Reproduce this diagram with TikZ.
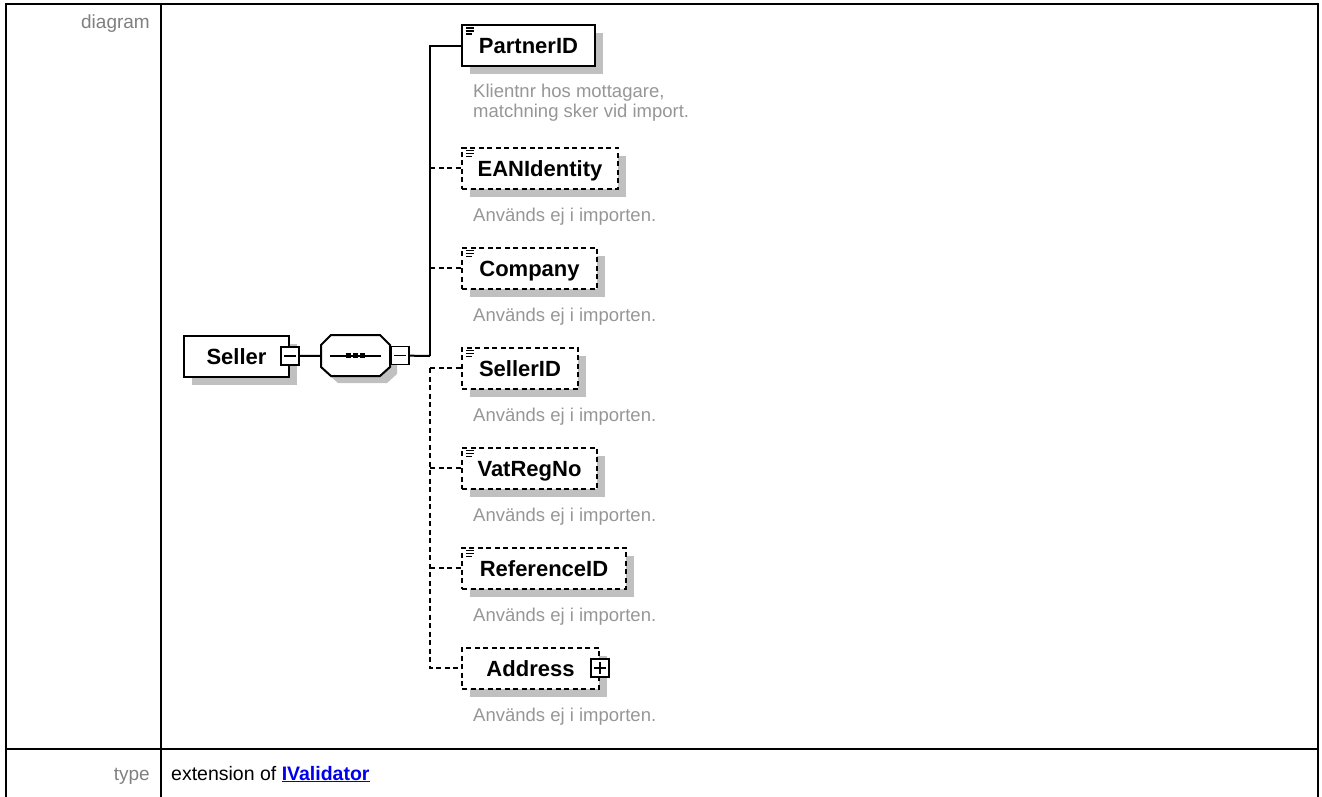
\documentclass[tikz,border=0pt]{standalone}
\usepackage{fontspec}
\setmainfont{Liberation Sans}
\usetikzlibrary{positioning, shadows}

\definecolor{labelgrey}{RGB}{128,128,128}
\definecolor{notegrey}{RGB}{150,150,150}
\definecolor{shadowgrey}{RGB}{192,192,192}
\definecolor{linkblue}{RGB}{0,0,238}

\begin{document}
\begin{tikzpicture}[x=1pt, y=-1pt]
\tikzstyle{elem} = [rectangle, draw, line width=2pt, fill=white, minimum height=41pt, inner xsep=0pt, anchor=west, text height=16pt, text depth=0pt, font=\fontsize{22}{26}\selectfont\bfseries, drop shadow={shadow xshift=8pt, shadow yshift=-8pt, fill=shadowgrey, opacity=1}]
\tikzstyle{optelem} = [elem, dash pattern=on 5pt off 3.5pt]
\tikzstyle{docicon} = [path picture={
  \draw[solid, line width=1.3pt] ([xshift=4pt,yshift=-3pt]path picture bounding box.north west) -- +(8pt,0pt);
  \draw[solid, line width=1.3pt] ([xshift=4pt,yshift=-6pt]path picture bounding box.north west) -- +(8pt,0pt);
  \draw[solid, line width=1.3pt] ([xshift=4pt,yshift=-9pt]path picture bounding box.north west) -- +(6pt,0pt);}]
\tikzstyle{note} = [anchor=base west, inner sep=0pt, text=notegrey, font=\fontsize{18.5}{20}\selectfont, align=left]
\tikzstyle{toggle} = [rectangle, draw, solid, line width=1.6pt, fill=white, minimum size=18pt, inner sep=0pt]
\tikzstyle{minus} = [toggle, path picture={
  \draw[line width=1.4pt] ([xshift=3pt]path picture bounding box.west) -- ([xshift=-3pt]path picture bounding box.east);}]
\tikzstyle{plus} = [toggle, path picture={
  \draw[line width=1.4pt] ([xshift=3pt]path picture bounding box.west) -- ([xshift=-3pt]path picture bounding box.east);
  \draw[line width=1.4pt] ([yshift=-3pt]path picture bounding box.north) -- ([yshift=3pt]path picture bounding box.south);}]
\tikzstyle{conn} = [line width=2pt]
\tikzstyle{optconn} = [conn, dash pattern=on 5pt off 3.5pt]
\tikzstyle{rowlabel} = [anchor=base east, inner sep=0pt, text=labelgrey, font=\fontsize{19}{22}\selectfont]

\useasboundingbox (0,0) rectangle (1322,796);

% table frame
\draw[line width=2.5pt] (6,4) rectangle (1318,810);
\draw[line width=2.5pt] (161,4) -- (161,810);
\draw[line width=2.5pt] (6,749) -- (1318,749);

\node (diaglabel) [rowlabel] at (150,28) {diagram};
\node (typelabel) [rowlabel] at (150,780) {type};
\node (typetext) [anchor=base west, inner sep=0pt, font=\fontsize{19.5}{22}\selectfont] at (171,780) {extension of \textcolor{linkblue}{\bfseries\underline{IValidator}}};

% root and sequence
\node (seller) [elem, anchor=center, minimum width=105pt] at (236.5,356) {Seller};
\node (sellertoggle) [minus] at (seller.east) {};

\fill[shadowgrey] (338,342) -- (387,342) -- (397,352) -- (397,374) -- (387,383) -- (338,383) -- (328,374) -- (328,352) -- cycle;
\draw[conn, fill=white] (331,335) -- (380,335) -- (390,345) -- (390,367) -- (380,376) -- (331,376) -- (321,367) -- (321,345) -- cycle;
\node (seq) [inner sep=0pt, minimum width=69pt, minimum height=41pt] at (355.5,355.5) {};
\draw[line width=1.6pt] (330,356) -- (381,356);
\foreach \dx in {-7,0,7}
  \fill ([xshift=\dx pt]seq.center) ++(-2.5,-2.5) rectangle ++(5,5);
\node (seqtoggle) [minus, right=0pt of seq] {};

\draw[conn] (sellertoggle) -- (seq);
\coordinate (trunk) at (430,356);
\coordinate (optstart) at (430,368);
\draw[conn] (seqtoggle) -- (trunk);

% children
\node (partner) [elem, docicon, minimum width=133pt] at (461,45.5) {PartnerID};
\node (ean) [optelem, docicon, minimum width=156pt] at (461,168) {EANIdentity};
\node (company) [optelem, docicon, minimum width=135pt] at (461,268) {Company};
\node (sellerid) [optelem, docicon, minimum width=116pt] at (461,368) {SellerID};
\node (vatregno) [optelem, docicon, minimum width=135pt] at (461,468) {VatRegNo};
\node (referenceid) [optelem, docicon, minimum width=164pt] at (461,568) {ReferenceID};
\node (address) [optelem, minimum width=137pt] at (461,668) {Address\hspace{14pt}};
\node (addresstoggle) [plus] at (address.east) {};

\draw[conn] (trunk) |- (partner.west);
\draw[optconn] (trunk |- ean.west) -- (ean.west);
\draw[optconn] (trunk |- company.west) -- (company.west);
\draw[optconn] (optstart) |- (address.west);
\foreach \n in {sellerid, vatregno, referenceid}
  \draw[optconn] (optstart |- \n.west) -- (\n.west);

\node (partnernote) [note] at (473,117) {Klientnr hos mottagare,\\matchning sker vid import.};
\foreach \n in {ean, company, sellerid, vatregno, referenceid, address}
  \node (\n note) [note] at ([yshift=-53pt]\n.west -| 473,0) {Används ej i importen.};

\end{tikzpicture}
\end{document}
